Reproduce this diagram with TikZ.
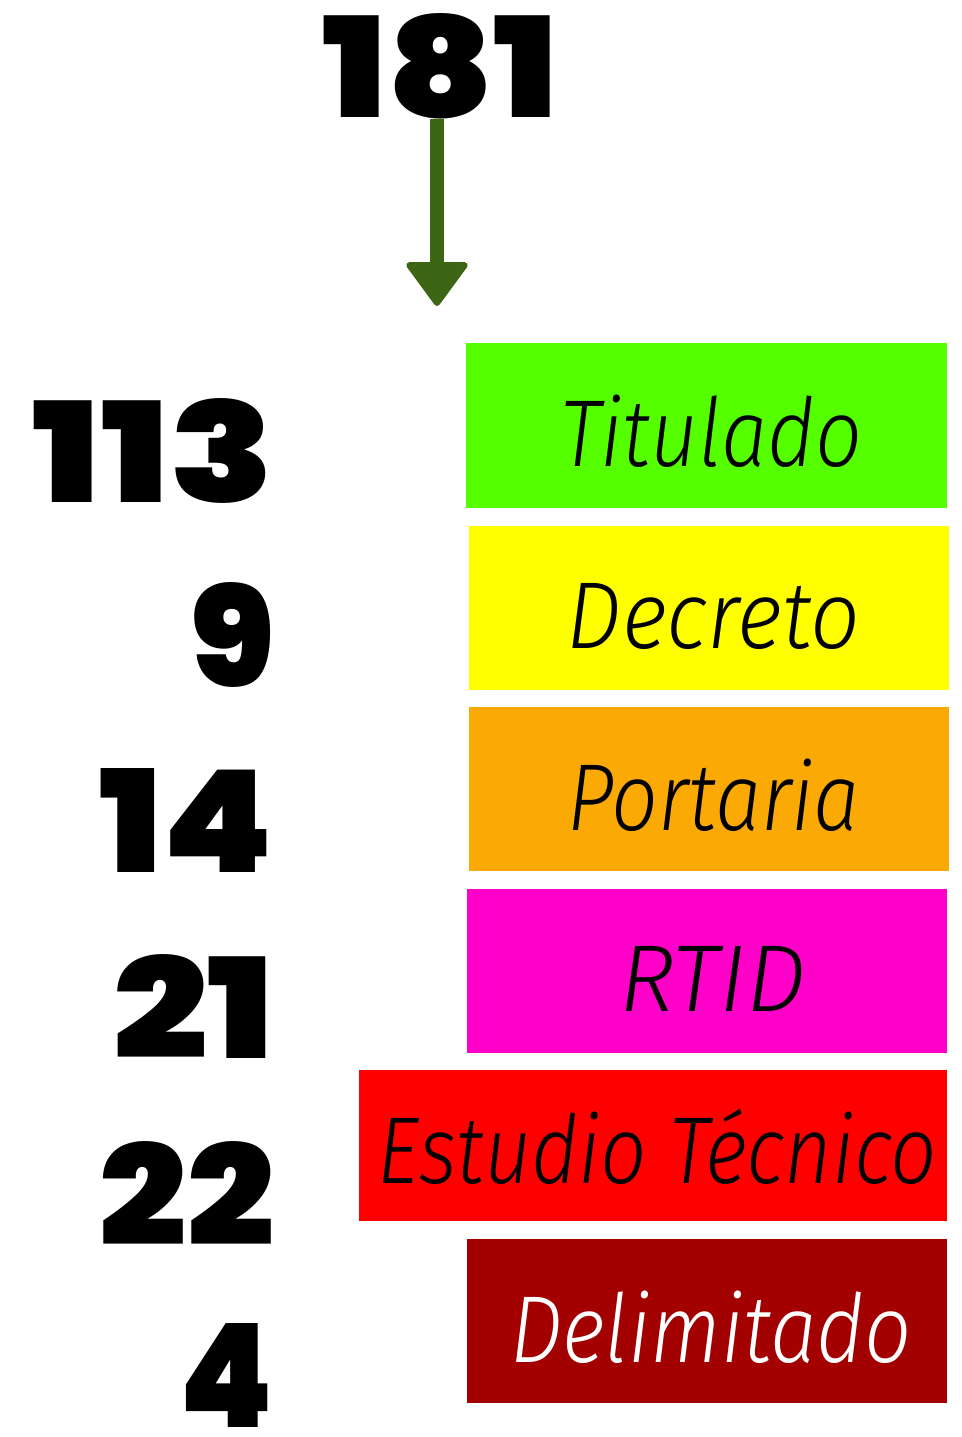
\documentclass[tikz,border=0pt]{standalone}
\usepackage{fontspec}
\usepackage{graphicx}
\usetikzlibrary{arrows.meta}
\IfFontExistsTF{Poppins Black}{\newfontfamily\numfont{Poppins Black}}{\newfontfamily\numfont{DejaVu Sans Bold}}
\IfFontExistsTF{Fira Sans Light Italic}{\newfontfamily\bxfont{Fira Sans Light Italic}}{\newfontfamily\bxfont{Fira Sans Italic}}
\definecolor{cTit}{HTML}{55FF00}
\definecolor{cDec}{HTML}{FFFF00}
\definecolor{cPor}{HTML}{FAA905}
\definecolor{cRTI}{HTML}{FF00C8}
\definecolor{cEst}{HTML}{FF0000}
\definecolor{cDel}{HTML}{A30000}
\definecolor{cArr}{HTML}{3D6614}
\newcommand{\numtxt}[2]{\resizebox{#1pt}{104pt}{\fontsize{150}{150}\selectfont\numfont #2}}
\newcommand{\boxtxt}[2]{\resizebox{#1pt}{\height}{\fontsize{95}{100}\selectfont\bxfont #2}}
\begin{document}
\begin{tikzpicture}[x=1pt,y=-1pt,
  num/.style={inner sep=0pt,outer sep=0pt,anchor=base east},
  lbl/.style={inner sep=0pt,outer sep=0pt,anchor=base}]
\useasboundingbox (0,0) rectangle (961,1437);
% top number and arrow
\node[inner sep=0pt,outer sep=0pt,anchor=base] (n181) at (440.5,117) {\numtxt{236}{181}};
\coordinate (tip) at (437,306);
\draw[cArr,line width=14pt,-{Triangle[width=66pt,length=46pt,line width=6pt,round]}] (n181.south -| tip) -- (tip);
% boxes
\fill[cTit] (466,343) rectangle (947,508);
\fill[cDec] (469,526) rectangle (949,690);
\fill[cPor] (469,707) rectangle (949,871);
\fill[cRTI] (467,889) rectangle (947,1053);
\fill[cEst] (359,1070) rectangle (947,1221);
\fill[cDel] (467,1239) rectangle (947,1403);
% labels
\node[lbl] (tTit) at (711,466) {\boxtxt{302}{Titulado}};
\node[lbl] (tDec) at (713.5,648) {\boxtxt{293}{Decreto}};
\node[lbl] (tPor) at (713.5,830) {\boxtxt{293}{Portaria}};
\node[lbl] (tRTI) at (712.5,1011) {\boxtxt{187}{RTID}};
\node[lbl] (tEst) at (657.5,1183) {\boxtxt{559}{Estudio Técnico}};
\node[lbl,text=white] (tDel) at (711,1362) {\boxtxt{402}{Delimitado}};
% numbers
\node[num] (n113) at (274,502) {\numtxt{241}{113}};
\node[num] (n9) at (274,686) {\numtxt{84}{9}};
\node[num] (n14) at (274,872) {\numtxt{174}{14}};
\node[num] (n21) at (274,1058) {\numtxt{161}{21}};
\node[num] (n22) at (274,1245) {\numtxt{174}{22}};
\node[num] (n4) at (274,1427) {\numtxt{94}{4}};
\end{tikzpicture}
\end{document}
